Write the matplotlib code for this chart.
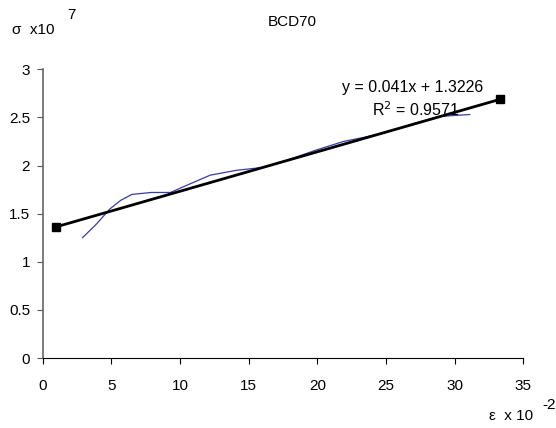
import matplotlib
matplotlib.use("Agg")
import matplotlib.pyplot as plt
import numpy as np

plt.rcParams['font.family'] = ['Liberation Sans', 'DejaVu Sans']

strain = [2.9, 3.9, 4.9, 5.7, 6.5, 7.9, 9.3, 10.9, 12.2, 14.1, 16.0, 17.9, 19.9, 21.9, 23.3, 24.9, 26.9, 28.9, 31.1]
stress = [1.25, 1.39, 1.55, 1.64, 1.70, 1.72, 1.72, 1.82, 1.90, 1.95, 1.98, 2.06, 2.16, 2.25, 2.29, 2.34, 2.43, 2.51, 2.53]
trend_x = [1.0, 33.3]
slope, intercept = 0.041, 1.3226
trend_y = [slope * v + intercept for v in trend_x]

fig = plt.figure(figsize=(5.56, 4.28), dpi=100)
ax = fig.add_axes([42.7/556, 1-358/428, 480.6/556, 288.7/428])

ax.plot(strain, stress, color='#3a3aa8', lw=0.9)
ax.plot(trend_x, trend_y, color='black', lw=2, marker='s', ms=6,
        markerfacecolor='black', markeredgecolor='black')

ax.set_xlim(0, 35)
ax.set_ylim(0, 3)
ax.set_xticks(np.arange(0, 36, 5))
ax.set_yticks(np.arange(0, 3.01, 0.5))
ax.set_yticklabels(['0', '0.5', '1', '1.5', '2', '2.5', '3'])
for s in ['top', 'right']:
    ax.spines[s].set_visible(False)
ax.spines['left'].set_color('#666666')
ax.spines['left'].set_linewidth(1.2)
ax.spines['bottom'].set_color('black')
ax.tick_params(axis='both', labelsize=11, length=4, direction='out')
ax.tick_params(axis='y', pad=5, color='#555555')
ax.tick_params(axis='x', pad=11, color='black')

fig.text(292/556, 1-22/428, 'BCD70', ha='center', va='center', fontsize=11)
fig.text(12/556, 1-30/428, 'σ  x10', ha='left', va='center', fontsize=11)
fig.text(67/556, 1-15/428, '7', ha='left', va='center', fontsize=11)
fig.text(489/556, 1-416/428, 'ε  x 10', ha='left', va='center', fontsize=11)
fig.text(542/556, 1-405/428, '-2', ha='left', va='center', fontsize=11)

ax.text(21.8, 2.81, 'y = 0.041x + 1.3226', ha='left', va='center', fontsize=11.5)
ax.text(23.96, 2.58, 'R$^2$ = 0.9571', ha='left', va='center', fontsize=11.5)

fig.savefig('out.png', dpi=100)
